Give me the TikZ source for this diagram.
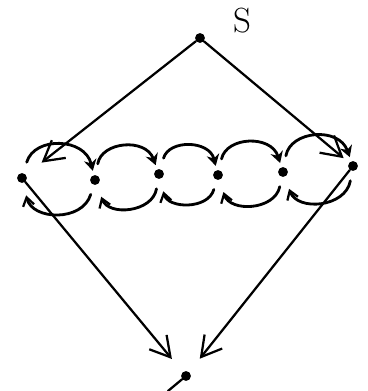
\documentclass[tikz,border=0pt]{standalone}
\usetikzlibrary{arrows.meta}
\tikzset{
  dot/.style={circle,fill=black,inner sep=0pt,minimum size=7pt},
  edge/.style={line width=1.6pt,line cap=round,-{Straight Barb[length=14pt,width=16pt,line width=1.6pt]}},
  hop/.style={line width=2pt,line cap=round,-{Stealth[length=8pt,width=9pt]},
    shorten <=8pt,shorten >=3pt,bend left=75,looseness=1.4},
  back/.style={line width=2pt,line cap=round,-{Straight Barb[length=6pt,width=8pt,line width=1.6pt]},
    shorten <=7pt,shorten >=9pt,bend left=75,looseness=1.4}
}
\begin{document}
\begin{tikzpicture}[x=0.025cm,y=-0.025cm]
        \useasboundingbox (0,0) rectangle (368,391);
        % outer nodes
        \node[dot] (s) at (200,38) {};
        \node[font=\Huge] (slabel) at (242,21) {$\mathrm{S}$};
        \node[dot] (l) at (22,178) {};
        \node[dot] (r) at (353,166) {};
        \node[dot] (b) at (186,376) {};
        \coordinate (tail) at (168,391);
        % chain in the middle
        \node[dot] (m1) at (95,180) {};
        \node[dot] (m2) at (159,174) {};
        \node[dot] (m3) at (218,175) {};
        \node[dot] (m4) at (283,172) {};
        \draw[edge,shorten >=14pt] (s) -- (l);
        \draw[edge,shorten >=5pt] (s) -- (r);
        \draw[edge,shorten >=12pt] (l) -- (b);
        \draw[edge,shorten >=12pt] (r) -- (b);
        \draw[line width=1.6pt,line cap=round] (b) -- (tail);
        \foreach \a/\b in {l/m1,m1/m2,m2/m3,m3/m4,m4/r}{
          \draw[hop] (\a) to (\b);
          \draw[back] (\b) to (\a);
        }
      \end{tikzpicture}
\end{document}
